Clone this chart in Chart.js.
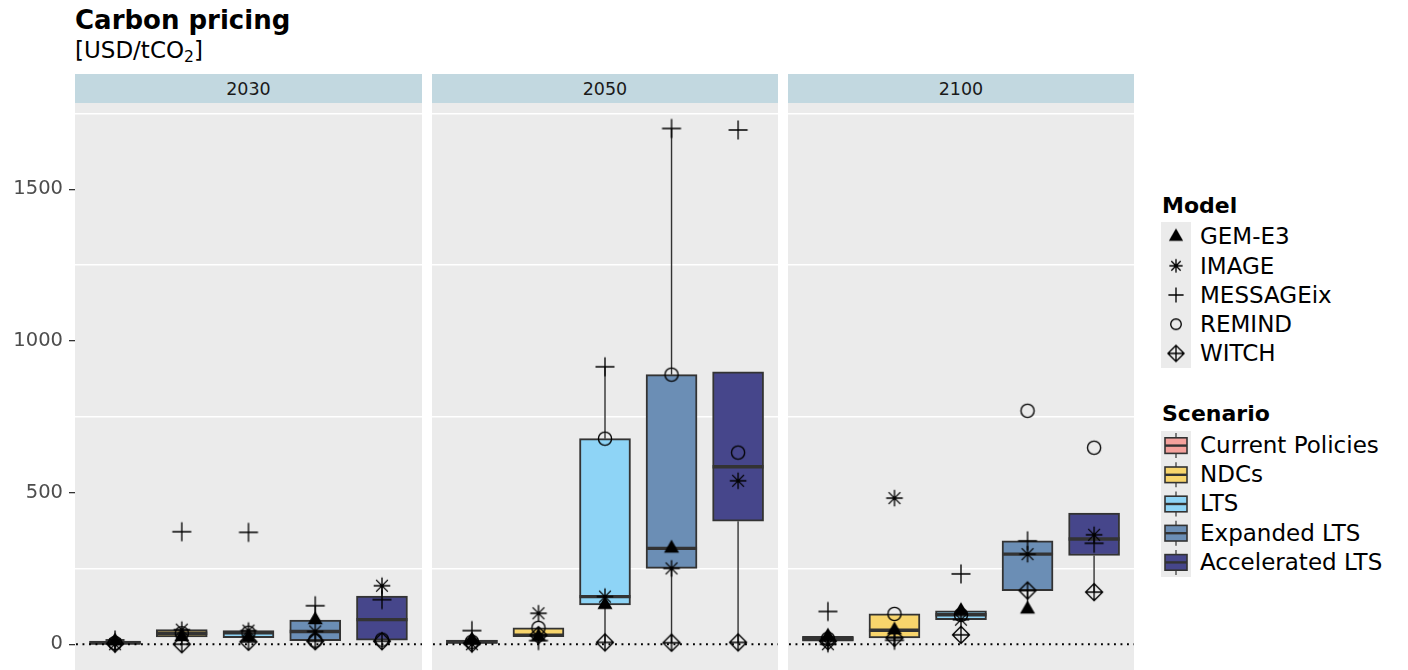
<!DOCTYPE html>
<html>
<head>
<meta charset="utf-8">
<script src="https://cdn.jsdelivr.net/npm/chart.js@4/dist/chart.umd.min.js"></script>
<style>
  html, body { margin: 0; padding: 0; background: #fff; }
  body { width: 1408px; height: 670px; position: relative; overflow: hidden; font-family: 'DejaVu Sans', sans-serif; color: #000; }
  .abs { position: absolute; }
  #title { left: 75px; top: 6.5px; font-size: 26px; line-height: 26px; font-weight: bold; white-space: nowrap; }
  #unit { left: 75px; top: 39px; font-size: 23px; line-height: 23px; white-space: nowrap; }
  #unit sub { font-size: 0.68em; vertical-align: -0.25em; line-height: 0; }
  .strip { top: 74px; height: 29px; background: #C2D8E0; color: #1A1A1A; font-size: 17.5px; display: flex; align-items: center; justify-content: center; }
  canvas.panel { position: absolute; top: 103px; }
  .lg-title { left: 1162px; font-size: 22px; line-height: 22px; font-weight: bold; white-space: nowrap; }
  .lg-row { left: 1200px; height: 29.2px; font-size: 23px; line-height: 29.2px; white-space: nowrap; color: #000; }
  .keys { position: absolute; left: 1161px; background: #EBEBEB; }
</style>
</head>
<body>
<div id="title" class="abs">Carbon pricing</div>
<div id="unit" class="abs">[USD/tCO<sub>2</sub>]</div>
<div id="strips"></div>
<canvas id="p0" class="panel" width="422" height="567" style="left:0px"></canvas>
<canvas id="p1" class="panel" width="346" height="567" style="left:432px"></canvas>
<canvas id="p2" class="panel" width="346" height="567" style="left:788px"></canvas>
<div id="legend"></div>
<script>
// ---- data ----
const years = ['2030', '2050', '2100'];
const scenarios = ['Current Policies', 'NDCs', 'LTS', 'Expanded LTS', 'Accelerated LTS'];
const models = ['GEM-E3', 'IMAGE', 'MESSAGEix', 'REMIND', 'WITCH'];

// Carbon price [USD/tCO2] per model: one row per year, one value per scenario (null = not reported)
const gemE3     = [[10, 24, 22, 80, null], [14, 25, 130, 316, null], [26, 46, 110, 115, null]];
const image     = [[0, 48, 45, 42, 193],   [0, 102, 157, 250, 539],  [0, 482, 81, 297, 361]];
const messageix = [[14, 371, 369, 127, 147], [45, 12, 915, 1701, 1696], [108, 13, 232, 341, 333]];
const remind    = [[4, 36, 38, 12, 15],    [8, 54, 678, 889, 632],   [18, 100, 97, 770, 648]];
const witch     = [[2, 0, 8, 10, 10],      [3, 30, 6, 5, 6],         [10, 21, 31, 177, 172]];

const yTicks = [0, 500, 1000, 1500];
const yGrid = [250, 750, 1250, 1750];
const yRange = [-85, 1785];

// ---- styling ----
const FONT = 'DejaVu Sans';
const scenarioColors = ['#F4A19C', '#F8D56C', '#8ED4F6', '#6B8EB5', '#46468B'];
const modelSeries = [gemE3, image, messageix, remind, witch];
const modelShapes = ['triangle', 'star', 'plus', 'circle', 'diamondPlus'];

// marker glyphs drawn once on small canvases, reused for the plot and the legend
function makeMarker(kind, scale) {
  const c = document.createElement('canvas');
  c.width = 24; c.height = 24;
  const g = c.getContext('2d');
  const cx = 12, cy = 12, k = scale || 1;
  g.strokeStyle = '#000'; g.fillStyle = '#000'; g.lineWidth = 1.35;
  g.beginPath();
  if (kind === 'triangle') {
    const r = 8.7 * k;
    g.moveTo(cx, cy - r);
    g.lineTo(cx + r * Math.sin(2 * Math.PI / 3), cy - r * Math.cos(2 * Math.PI / 3));
    g.lineTo(cx + r * Math.sin(4 * Math.PI / 3), cy - r * Math.cos(4 * Math.PI / 3));
    g.closePath(); g.fill();
  } else if (kind === 'star') {
    const r = 8.3 * k, d = r * Math.SQRT1_2;
    g.moveTo(cx, cy - r); g.lineTo(cx, cy + r);
    g.moveTo(cx - r, cy); g.lineTo(cx + r, cy);
    g.moveTo(cx - d, cy - d); g.lineTo(cx + d, cy + d);
    g.moveTo(cx - d, cy + d); g.lineTo(cx + d, cy - d);
    g.stroke();
  } else if (kind === 'plus') {
    const r = 9.5 * k;
    g.moveTo(cx, cy - r); g.lineTo(cx, cy + r);
    g.moveTo(cx - r, cy); g.lineTo(cx + r, cy);
    g.stroke();
  } else if (kind === 'circle') {
    g.arc(cx, cy, 6.6 * k, 0, Math.PI * 2);
    g.stroke();
  } else if (kind === 'diamondPlus') {
    const r = 8.5 * k;
    g.moveTo(cx, cy - r); g.lineTo(cx + r, cy); g.lineTo(cx, cy + r); g.lineTo(cx - r, cy); g.closePath();
    g.moveTo(cx, cy - r); g.lineTo(cx, cy + r);
    g.moveTo(cx - r, cy); g.lineTo(cx + r, cy);
    g.stroke();
  }
  return c;
}
const plotMarkers = modelShapes.map(s => makeMarker(s, 1));
const legendMarkers = modelShapes.map(s => makeMarker(s, s === 'triangle' || s === 'diamondPlus' ? 0.95 : 0.8));

// Tukey box statistics (quantile type 7, whiskers at 1.5 IQR)
function boxStats(vals) {
  const s = vals.slice().sort((a, b) => a - b);
  const q = p => {
    const h = (s.length - 1) * p, i = Math.floor(h);
    const next = i + 1 < s.length ? s[i + 1] : s[i];
    return s[i] + (h - i) * (next - s[i]);
  };
  const q1 = q(0.25), med = q(0.5), q3 = q(0.75), iqr = q3 - q1;
  const inside = s.filter(v => v >= q1 - 1.5 * iqr && v <= q3 + 1.5 * iqr);
  return { q1, med, q3, lo: Math.min(...inside), hi: Math.max(...inside) };
}

// panel background, whiskers, medians and the dotted zero line
const panelDecor = {
  id: 'panelDecor',
  beforeDraw(chart) {
    const { ctx, chartArea: a } = chart;
    ctx.save();
    ctx.fillStyle = '#EBEBEB';
    ctx.fillRect(a.left, a.top, a.right - a.left, a.bottom - a.top);
    ctx.restore();
  },
  afterDatasetDraw(chart, args) {
    if (args.index !== 0) return;
    const { ctx, chartArea: a } = chart;
    const y = chart.scales.y;
    const stats = chart.data.datasets[0].stats;
    const bars = chart.getDatasetMeta(0).data;
    ctx.save();
    ctx.strokeStyle = '#333';
    ctx.lineCap = 'butt';
    stats.forEach((b, i) => {
      const el = bars[i];
      ctx.lineWidth = 1.4;
      ctx.beginPath();
      if (b.hi > b.q3) { ctx.moveTo(el.x, y.getPixelForValue(b.q3)); ctx.lineTo(el.x, y.getPixelForValue(b.hi)); }
      if (b.lo < b.q1) { ctx.moveTo(el.x, y.getPixelForValue(b.q1)); ctx.lineTo(el.x, y.getPixelForValue(b.lo)); }
      ctx.stroke();
      ctx.lineWidth = 3.4;
      ctx.beginPath();
      const ym = y.getPixelForValue(b.med);
      ctx.moveTo(el.x - el.width / 2, ym);
      ctx.lineTo(el.x + el.width / 2, ym);
      ctx.stroke();
    });
    const y0 = y.getPixelForValue(0);
    ctx.strokeStyle = '#000';
    ctx.lineWidth = 1.9;
    ctx.setLineDash([1.9, 4.6]);
    ctx.beginPath();
    ctx.moveTo(a.left + 1, y0);
    ctx.lineTo(a.right, y0);
    ctx.stroke();
    ctx.restore();
  }
};

function makePanel(id, yi, withAxis) {
  const stats = scenarios.map((_, si) =>
    boxStats(modelSeries.map(s => s[yi][si]).filter(v => v !== null)));
  const datasets = [{
    type: 'bar',
    label: years[yi],
    data: stats.map((b, si) => ({ x: si + 1, y: [b.q1, b.q3] })),
    stats: stats,
    backgroundColor: scenarioColors,
    borderColor: '#333',
    borderWidth: 2,
    borderSkipped: false,
    barThickness: 51,
    order: 2
  }];
  models.forEach((m, mi) => {
    datasets.push({
      type: 'line',
      label: m,
      showLine: false,
      order: 1,
      data: scenarios.map((_, si) => ({ x: si + 1, y: modelSeries[mi][yi][si] })).filter(p => p.y !== null),
      pointStyle: plotMarkers[mi],
      pointRadius: 6,
      pointHoverRadius: 6
    });
  });
  return new Chart(document.getElementById(id), {
    type: 'bar',
    data: { datasets },
    options: {
      responsive: false,
      devicePixelRatio: 1,
      animation: false,
      events: [],
      layout: { padding: 0, autoPadding: false },
      plugins: { legend: { display: false }, tooltip: { enabled: false }, title: { display: false } },
      scales: {
        x: { type: 'linear', min: 0.4, max: 5.6, offset: false, display: false },
        y: {
          type: 'linear', position: 'left', min: yRange[0], max: yRange[1], display: withAxis,
          afterBuildTicks: ax => { ax.ticks = yTicks.map(v => ({ value: v })); },
          afterFit: ax => { ax.width = withAxis ? 75 : 0; ax.paddingTop = 0; ax.paddingBottom = 0; },
          grid: { drawOnChartArea: false, drawTicks: true, tickLength: 6, color: '#333', lineWidth: 1.3 },
          border: { display: false },
          ticks: { color: '#4D4D4D', padding: 6, font: { family: FONT, size: 19.5 }, callback: v => String(v) }
        },
        yg: {
          type: 'linear', position: 'left', min: yRange[0], max: yRange[1], display: true,
          afterBuildTicks: ax => { ax.ticks = yGrid.map(v => ({ value: v })); },
          afterFit: ax => { ax.width = 0; ax.paddingTop = 0; ax.paddingBottom = 0; },
          grid: { color: '#FFFFFF', lineWidth: 1.6, drawTicks: false },
          border: { display: false },
          ticks: { display: false }
        }
      }
    },
    plugins: [panelDecor]
  });
}

// facet strips
const stripBox = [[75, 347], [432, 346], [788, 346]];
const strips = document.getElementById('strips');
years.forEach((yr, i) => {
  const d = document.createElement('div');
  d.className = 'abs strip';
  d.style.left = stripBox[i][0] + 'px';
  d.style.width = stripBox[i][1] + 'px';
  d.textContent = yr;
  strips.appendChild(d);
});

makePanel('p0', 0, true);
makePanel('p1', 1, false);
makePanel('p2', 2, false);

// legend
const ROW = 29.2;
const legend = document.getElementById('legend');
function legendGroup(title, titleTop, keysTop, labels, drawKey) {
  const t = document.createElement('div');
  t.className = 'abs lg-title';
  t.style.top = titleTop + 'px';
  t.textContent = title;
  legend.appendChild(t);
  const c = document.createElement('canvas');
  c.className = 'keys';
  c.width = 30; c.height = Math.round(ROW * labels.length);
  c.style.top = keysTop + 'px';
  legend.appendChild(c);
  const g = c.getContext('2d');
  labels.forEach((lab, i) => {
    drawKey(g, i, 15, ROW * i + ROW / 2);
    const r = document.createElement('div');
    r.className = 'abs lg-row';
    r.style.top = (keysTop + ROW * i) + 'px';
    r.textContent = lab;
    legend.appendChild(r);
  });
}
legendGroup('Model', 194.7, 222.4, models, (g, i, cx, cy) => {
  g.drawImage(legendMarkers[i], cx - 12, cy - 12);
});
legendGroup('Scenario', 403.1, 431, scenarios, (g, i, cx, cy) => {
  g.strokeStyle = '#333';
  g.lineWidth = 1.2;
  g.beginPath();
  g.moveTo(cx, cy - 12.5); g.lineTo(cx, cy + 12.5);
  g.stroke();
  g.fillStyle = scenarioColors[i];
  g.fillRect(cx - 11, cy - 7.8, 22, 15.6);
  g.lineWidth = 1.6;
  g.strokeRect(cx - 11, cy - 7.8, 22, 15.6);
  g.lineWidth = 2.4;
  g.beginPath();
  g.moveTo(cx - 11, cy); g.lineTo(cx + 11, cy);
  g.stroke();
});
</script>
</body>
</html>
